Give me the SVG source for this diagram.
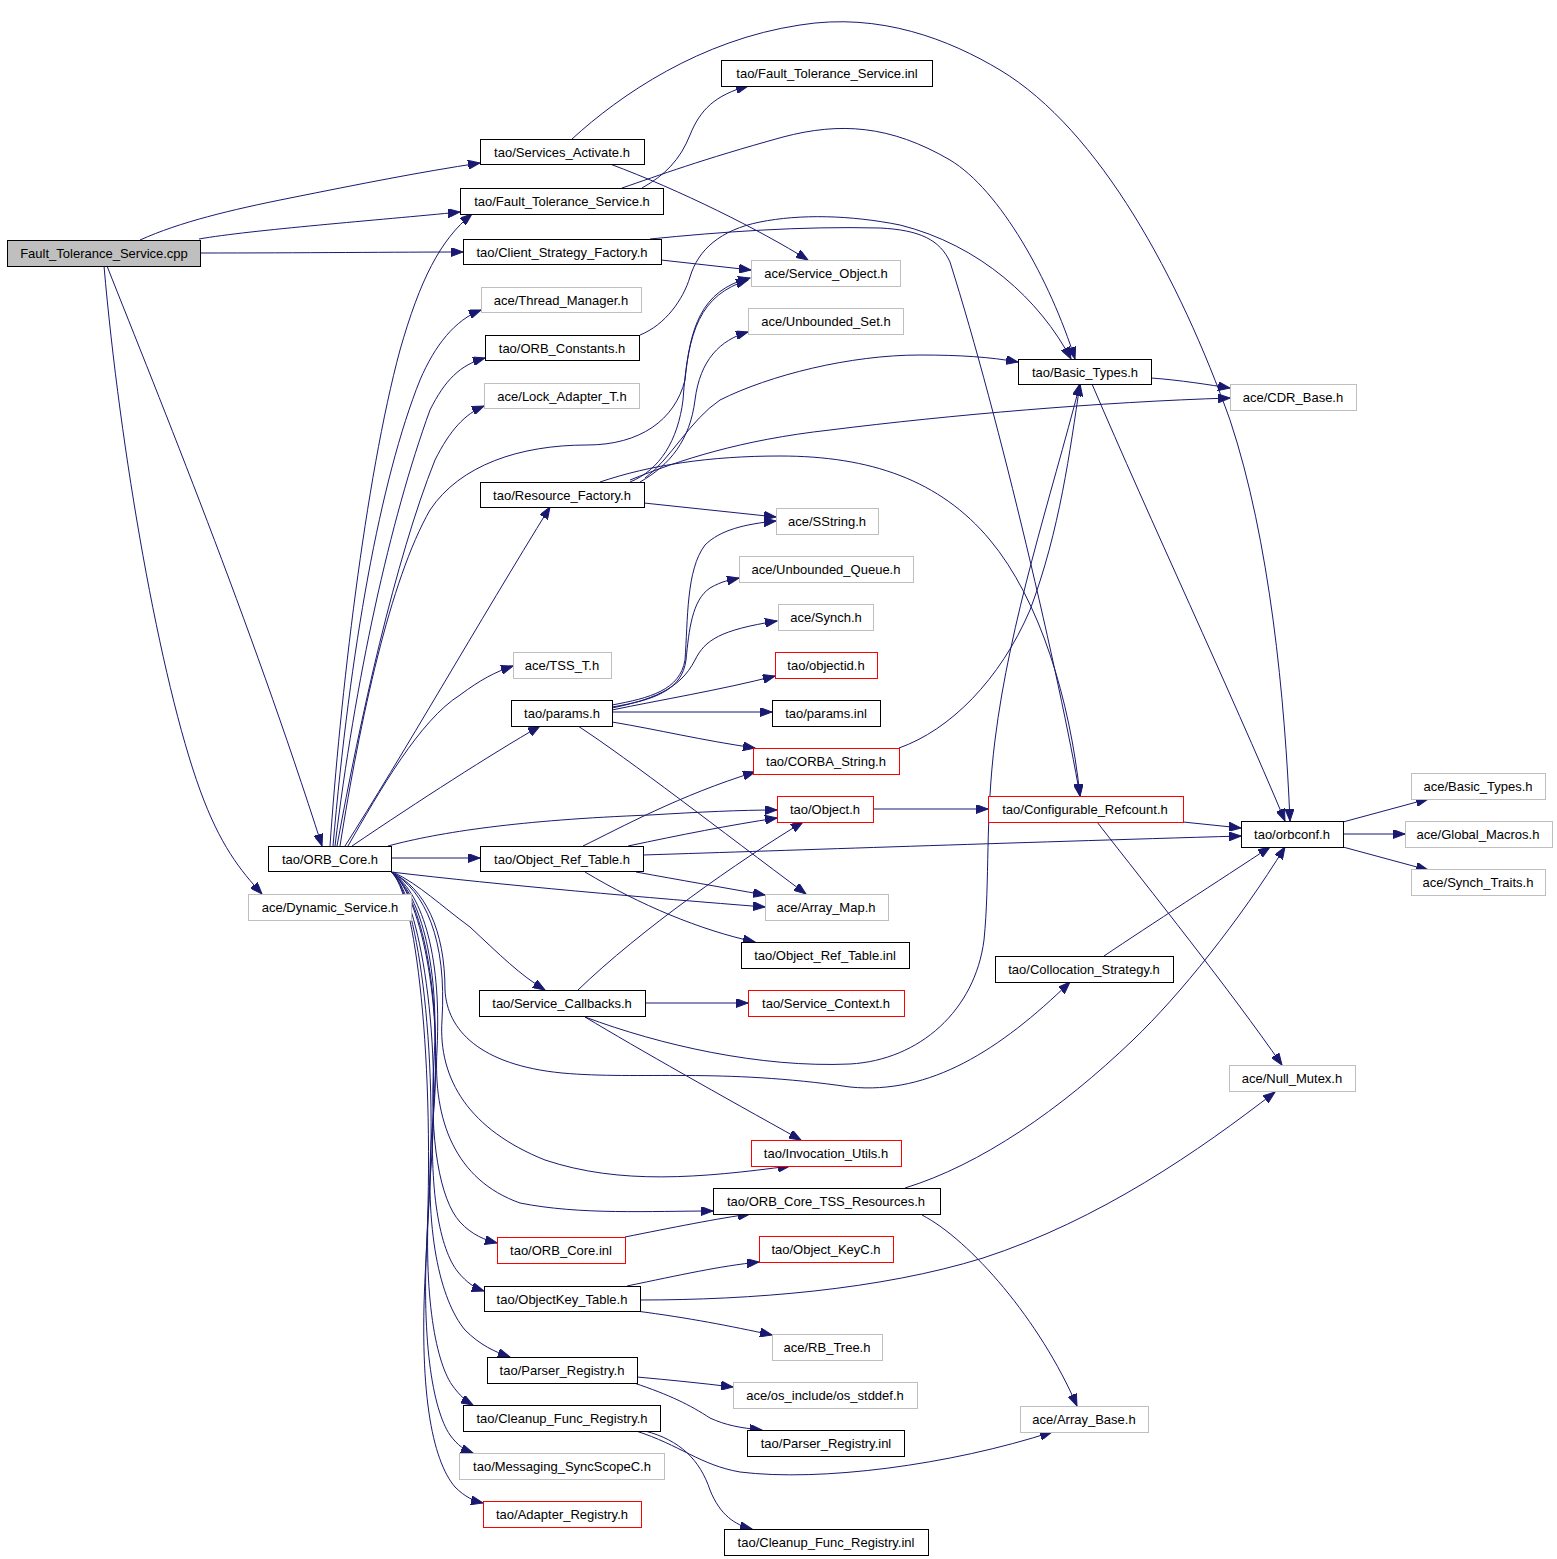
<svg xmlns="http://www.w3.org/2000/svg" width="1557" height="1559" viewBox="0 0 1557 1559">
<style>
.nd rect{fill:#ffffff;stroke-width:1}
.b rect{stroke:#000000}
.g rect{stroke:#bfbfbf}
.r rect{stroke:#ff0000}
.root rect{fill:#bfbfbf;stroke:#000000}
.nd text{font-family:"Liberation Sans",Arial,sans-serif;font-size:13px;fill:#000000;text-anchor:middle}
#edges path{fill:none;stroke:#191970;stroke-width:1;marker-end:url(#ah)}
</style>
<defs>
<marker id="ah" markerUnits="userSpaceOnUse" markerWidth="13" markerHeight="9" refX="12" refY="4.5" orient="auto">
<path d="M0,0 L12,4.5 L0,9 z" fill="#191970" stroke="#191970" stroke-width="1"/>
</marker>
</defs>
<rect x="0" y="0" width="1557" height="1559" fill="#ffffff"/>
<g id="edges">
<path d="M140,240 C180,222 230,210 290,198 C360,184 420,172 480,163"/>
<path d="M199,239 C250,230 380,220 460,212"/>
<path d="M200,253 C300,253 400,252 463,252"/>
<path d="M107,266 C160,400 250,620 322,846"/>
<path d="M104,266 C120,450 160,680 200,790 C220,845 240,870 262,894"/>
<path d="M610,164 C680,190 760,230 808,260"/>
<path d="M572,139 C620,95 700,40 800,25 C880,12 950,40 1000,70 C1100,130 1180,280 1230,420 C1270,540 1285,700 1290,821"/>
<path d="M642,188 C665,175 680,160 690,135 C700,110 715,95 748,86"/>
<path d="M622,188 C660,175 700,160 783,137 C840,122 890,125 950,160 C1000,190 1050,280 1075,359"/>
<path d="M661,260 L751,270"/>
<path d="M650,239 C720,232 800,226 880,228 C920,230 940,240 950,262 C1000,420 1060,680 1080,796"/>
<path d="M640,335 C665,325 683,300 690,277 C698,250 720,230 760,222 C800,214 850,215 900,225 C980,245 1040,300 1071,359"/>
<path d="M330,846 C340,700 365,480 400,350 C420,280 440,240 472,214"/>
<path d="M333,846 C350,650 380,480 420,380 C435,345 455,320 481,310"/>
<path d="M335,846 C355,680 390,520 430,410 C445,380 460,365 485,358"/>
<path d="M337,846 C360,720 395,560 435,460 C450,430 465,414 484,406"/>
<path d="M340,846 C360,720 390,580 430,510 C460,465 520,445 587,445 C640,445 675,420 685,380 C690,330 700,290 750,278"/>
<path d="M345,846 C400,760 480,620 550,507"/>
<path d="M348,846 C380,790 420,720 460,695 C480,680 495,672 513,666"/>
<path d="M352,846 C420,800 490,755 540,726"/>
<path d="M388,846 C440,832 520,820 650,815 C700,812 740,810 777,810"/>
<path d="M391,858 L480,858"/>
<path d="M391,872 C500,885 650,898 765,907"/>
<path d="M393,872 C420,885 440,905 470,927 C500,955 520,975 545,990"/>
<path d="M391,872 C425,888 445,930 445,990 C447,1030 480,1065 562,1073 C640,1080 720,1068 850,1087 C930,1095 1000,1050 1070,982"/>
<path d="M391,872 C425,890 447,940 442,1020 C438,1080 470,1130 545,1160 C620,1185 700,1178 790,1166"/>
<path d="M391,872 C420,890 442,950 437,1050 C433,1120 455,1180 520,1203 C580,1215 650,1211 713,1211"/>
<path d="M391,872 C418,890 440,960 434,1060 C429,1140 440,1200 460,1222 C472,1235 485,1240 497,1243"/>
<path d="M391,872 C418,890 442,980 434,1100 C428,1190 440,1250 458,1272 C467,1283 475,1288 484,1291"/>
<path d="M391,872 C418,890 446,1000 432,1130 C424,1230 440,1300 465,1330 C480,1345 495,1352 510,1357"/>
<path d="M391,872 C415,890 444,1020 430,1180 C422,1290 435,1360 452,1385 C460,1396 466,1401 473,1405"/>
<path d="M391,872 C415,890 440,1040 428,1220 C420,1340 433,1410 450,1435 C458,1446 465,1450 473,1453"/>
<path d="M391,872 C415,890 436,1060 426,1260 C418,1390 432,1460 455,1487 C465,1497 474,1501 483,1503"/>
<path d="M630,482 C660,470 678,440 683,400 C688,330 700,295 748,280"/>
<path d="M640,482 C670,465 690,440 695,400 C700,360 720,340 748,332"/>
<path d="M645,478 C670,460 690,420 720,400 C770,375 850,355 920,355 C960,355 990,357 1018,362"/>
<path d="M630,480 C680,460 740,440 830,430 C950,415 1100,402 1230,398"/>
<path d="M600,482 C650,465 710,456 780,456 C870,456 940,480 990,540 C1040,600 1070,700 1080,796"/>
<path d="M644,503 L776,517"/>
<path d="M612,705 C650,698 680,690 685,660 C688,620 686,570 705,545 C720,530 745,524 776,521"/>
<path d="M612,707 C655,700 682,690 686,660 C689,630 692,600 710,588 C722,581 730,580 739,578"/>
<path d="M612,708 C650,700 680,690 695,660 C705,640 720,630 777,621"/>
<path d="M612,710 C660,700 720,690 775,676"/>
<path d="M612,712 L772,712"/>
<path d="M612,722 C660,730 700,740 755,748"/>
<path d="M578,726 C630,760 720,830 806,894"/>
<path d="M899,748 C950,730 1000,680 1030,610 C1060,530 1070,450 1080,384"/>
<path d="M873,809 L988,809"/>
<path d="M1183,822 L1241,828"/>
<path d="M1097,822 C1150,890 1230,990 1282,1065"/>
<path d="M1151,378 C1180,380 1210,385 1230,388"/>
<path d="M1092,384 C1150,520 1230,690 1285,821"/>
<path d="M1343,822 L1428,799"/>
<path d="M1343,834 L1405,834"/>
<path d="M1343,847 L1428,870"/>
<path d="M643,855 C800,850 1000,843 1241,836"/>
<path d="M583,846 C620,828 680,795 755,772"/>
<path d="M628,846 C680,835 730,825 777,818"/>
<path d="M636,872 C680,880 720,887 765,895"/>
<path d="M585,872 C640,905 700,930 755,942"/>
<path d="M578,990 C640,930 740,860 803,822"/>
<path d="M645,1003 L748,1003"/>
<path d="M585,1017 C660,1045 760,1068 850,1064 C920,1060 975,1010 984,940 C990,880 985,820 995,740 C1010,620 1050,500 1080,384"/>
<path d="M585,1017 C640,1050 720,1095 801,1140"/>
<path d="M1104,956 C1150,925 1220,880 1270,847"/>
<path d="M905,1188 C980,1165 1060,1110 1133,1040 C1180,995 1240,920 1285,847"/>
<path d="M922,1215 C970,1240 1040,1320 1077,1406"/>
<path d="M625,1237 C670,1228 720,1218 750,1214"/>
<path d="M627,1286 C680,1275 720,1266 759,1262"/>
<path d="M640,1300 C750,1300 880,1290 983,1258 C1100,1220 1200,1150 1275,1092"/>
<path d="M636,1311 C690,1318 730,1326 772,1335"/>
<path d="M637,1377 C670,1380 700,1383 733,1387"/>
<path d="M634,1383 C670,1395 690,1405 710,1418 C725,1425 740,1428 762,1430"/>
<path d="M636,1431 C680,1445 700,1465 740,1472 C820,1482 950,1465 1052,1432"/>
<path d="M645,1431 C680,1440 700,1460 710,1490 C720,1515 735,1525 752,1529"/>
</g>
<g id="n_cpp" class="nd root"><rect x="7.5" y="240.5" width="193" height="26"/><text x="104" y="258">Fault_Tolerance_Service.cpp</text></g>
<g id="n_services_activate" class="nd b"><rect x="480.5" y="139.5" width="164" height="25"/><text x="562" y="157">tao/Services_Activate.h</text></g>
<g id="n_fts_inl" class="nd b"><rect x="721.5" y="60.5" width="211" height="26"/><text x="827" y="78">tao/Fault_Tolerance_Service.inl</text></g>
<g id="n_fts_h" class="nd b"><rect x="460.5" y="188.5" width="203" height="26"/><text x="562" y="206">tao/Fault_Tolerance_Service.h</text></g>
<g id="n_csf" class="nd b"><rect x="463.5" y="239.5" width="198" height="25"/><text x="562" y="257">tao/Client_Strategy_Factory.h</text></g>
<g id="n_service_object" class="nd g"><rect x="751.5" y="260.5" width="149" height="26"/><text x="826" y="278">ace/Service_Object.h</text></g>
<g id="n_thread_manager" class="nd g"><rect x="481.5" y="287.5" width="160" height="25"/><text x="561" y="305">ace/Thread_Manager.h</text></g>
<g id="n_unbounded_set" class="nd g"><rect x="748.5" y="308.5" width="155" height="26"/><text x="826" y="326">ace/Unbounded_Set.h</text></g>
<g id="n_orb_constants" class="nd b"><rect x="485.5" y="335.5" width="154" height="25"/><text x="562" y="353">tao/ORB_Constants.h</text></g>
<g id="n_tao_basic_types" class="nd b"><rect x="1018.5" y="359.5" width="133" height="25"/><text x="1085" y="377">tao/Basic_Types.h</text></g>
<g id="n_lock_adapter" class="nd g"><rect x="484.5" y="383.5" width="155" height="25"/><text x="562" y="401">ace/Lock_Adapter_T.h</text></g>
<g id="n_cdr_base" class="nd g"><rect x="1230.5" y="384.5" width="126" height="26"/><text x="1293" y="402">ace/CDR_Base.h</text></g>
<g id="n_resource_factory" class="nd b"><rect x="480.5" y="482.5" width="164" height="25"/><text x="562" y="500">tao/Resource_Factory.h</text></g>
<g id="n_sstring" class="nd g"><rect x="776.5" y="508.5" width="102" height="26"/><text x="827" y="526">ace/SString.h</text></g>
<g id="n_unbounded_queue" class="nd g"><rect x="739.5" y="556.5" width="174" height="26"/><text x="826" y="574">ace/Unbounded_Queue.h</text></g>
<g id="n_synch" class="nd g"><rect x="778.5" y="604.5" width="95" height="26"/><text x="826" y="622">ace/Synch.h</text></g>
<g id="n_objectid" class="nd r"><rect x="775.5" y="652.5" width="102" height="26"/><text x="826" y="670">tao/objectid.h</text></g>
<g id="n_tss_t" class="nd g"><rect x="513.5" y="652.5" width="98" height="26"/><text x="562" y="670">ace/TSS_T.h</text></g>
<g id="n_params_h" class="nd b"><rect x="511.5" y="700.5" width="101" height="26"/><text x="562" y="718">tao/params.h</text></g>
<g id="n_params_inl" class="nd b"><rect x="772.5" y="700.5" width="108" height="26"/><text x="826" y="718">tao/params.inl</text></g>
<g id="n_corba_string" class="nd r"><rect x="753.5" y="748.5" width="146" height="26"/><text x="826" y="766">tao/CORBA_String.h</text></g>
<g id="n_ace_basic_types" class="nd g"><rect x="1411.5" y="773.5" width="134" height="26"/><text x="1478" y="791">ace/Basic_Types.h</text></g>
<g id="n_object" class="nd r"><rect x="777.5" y="796.5" width="96" height="26"/><text x="825" y="814">tao/Object.h</text></g>
<g id="n_conf_refcount" class="nd r"><rect x="988.5" y="796.5" width="195" height="26"/><text x="1085" y="814">tao/Configurable_Refcount.h</text></g>
<g id="n_orbconf" class="nd b"><rect x="1241.5" y="821.5" width="102" height="26"/><text x="1292" y="839">tao/orbconf.h</text></g>
<g id="n_global_macros" class="nd g"><rect x="1405.5" y="821.5" width="147" height="26"/><text x="1478" y="839">ace/Global_Macros.h</text></g>
<g id="n_orb_core_h" class="nd b"><rect x="268.5" y="846.5" width="123" height="25"/><text x="330" y="864">tao/ORB_Core.h</text></g>
<g id="n_object_ref_table" class="nd b"><rect x="480.5" y="846.5" width="163" height="25"/><text x="562" y="864">tao/Object_Ref_Table.h</text></g>
<g id="n_synch_traits" class="nd g"><rect x="1411.5" y="869.5" width="134" height="26"/><text x="1478" y="887">ace/Synch_Traits.h</text></g>
<g id="n_array_map" class="nd g"><rect x="765.5" y="894.5" width="123" height="26"/><text x="826" y="912">ace/Array_Map.h</text></g>
<g id="n_dynamic_service" class="nd g"><rect x="248.5" y="894.5" width="163" height="26"/><text x="330" y="912">ace/Dynamic_Service.h</text></g>
<g id="n_object_ref_table_inl" class="nd b"><rect x="741.5" y="942.5" width="168" height="26"/><text x="825" y="960">tao/Object_Ref_Table.inl</text></g>
<g id="n_collocation" class="nd b"><rect x="995.5" y="956.5" width="178" height="26"/><text x="1084" y="974">tao/Collocation_Strategy.h</text></g>
<g id="n_service_callbacks" class="nd b"><rect x="479.5" y="990.5" width="166" height="26"/><text x="562" y="1008">tao/Service_Callbacks.h</text></g>
<g id="n_service_context" class="nd r"><rect x="748.5" y="990.5" width="156" height="26"/><text x="826" y="1008">tao/Service_Context.h</text></g>
<g id="n_null_mutex" class="nd g"><rect x="1229.5" y="1065.5" width="126" height="26"/><text x="1292" y="1083">ace/Null_Mutex.h</text></g>
<g id="n_invocation_utils" class="nd r"><rect x="751.5" y="1140.5" width="150" height="26"/><text x="826" y="1158">tao/Invocation_Utils.h</text></g>
<g id="n_tss_resources" class="nd b"><rect x="713.5" y="1188.5" width="227" height="26"/><text x="826" y="1206">tao/ORB_Core_TSS_Resources.h</text></g>
<g id="n_orb_core_inl" class="nd r"><rect x="497.5" y="1237.5" width="128" height="26"/><text x="561" y="1255">tao/ORB_Core.inl</text></g>
<g id="n_object_keyc" class="nd r"><rect x="759.5" y="1236.5" width="134" height="26"/><text x="826" y="1254">tao/Object_KeyC.h</text></g>
<g id="n_objectkey_table" class="nd b"><rect x="484.5" y="1286.5" width="156" height="25"/><text x="562" y="1304">tao/ObjectKey_Table.h</text></g>
<g id="n_rb_tree" class="nd g"><rect x="772.5" y="1334.5" width="110" height="26"/><text x="827" y="1352">ace/RB_Tree.h</text></g>
<g id="n_parser_registry" class="nd b"><rect x="487.5" y="1357.5" width="150" height="26"/><text x="562" y="1375">tao/Parser_Registry.h</text></g>
<g id="n_os_stddef" class="nd g"><rect x="733.5" y="1382.5" width="184" height="26"/><text x="825" y="1400">ace/os_include/os_stddef.h</text></g>
<g id="n_array_base" class="nd g"><rect x="1020.5" y="1406.5" width="128" height="26"/><text x="1084" y="1424">ace/Array_Base.h</text></g>
<g id="n_cleanup_h" class="nd b"><rect x="463.5" y="1405.5" width="197" height="26"/><text x="562" y="1423">tao/Cleanup_Func_Registry.h</text></g>
<g id="n_parser_registry_inl" class="nd b"><rect x="747.5" y="1430.5" width="157" height="26"/><text x="826" y="1448">tao/Parser_Registry.inl</text></g>
<g id="n_messaging" class="nd g"><rect x="459.5" y="1453.5" width="205" height="26"/><text x="562" y="1471">tao/Messaging_SyncScopeC.h</text></g>
<g id="n_adapter_registry" class="nd r"><rect x="483.5" y="1501.5" width="158" height="26"/><text x="562" y="1519">tao/Adapter_Registry.h</text></g>
<g id="n_cleanup_inl" class="nd b"><rect x="724.5" y="1529.5" width="204" height="26"/><text x="826" y="1547">tao/Cleanup_Func_Registry.inl</text></g>
</svg>
